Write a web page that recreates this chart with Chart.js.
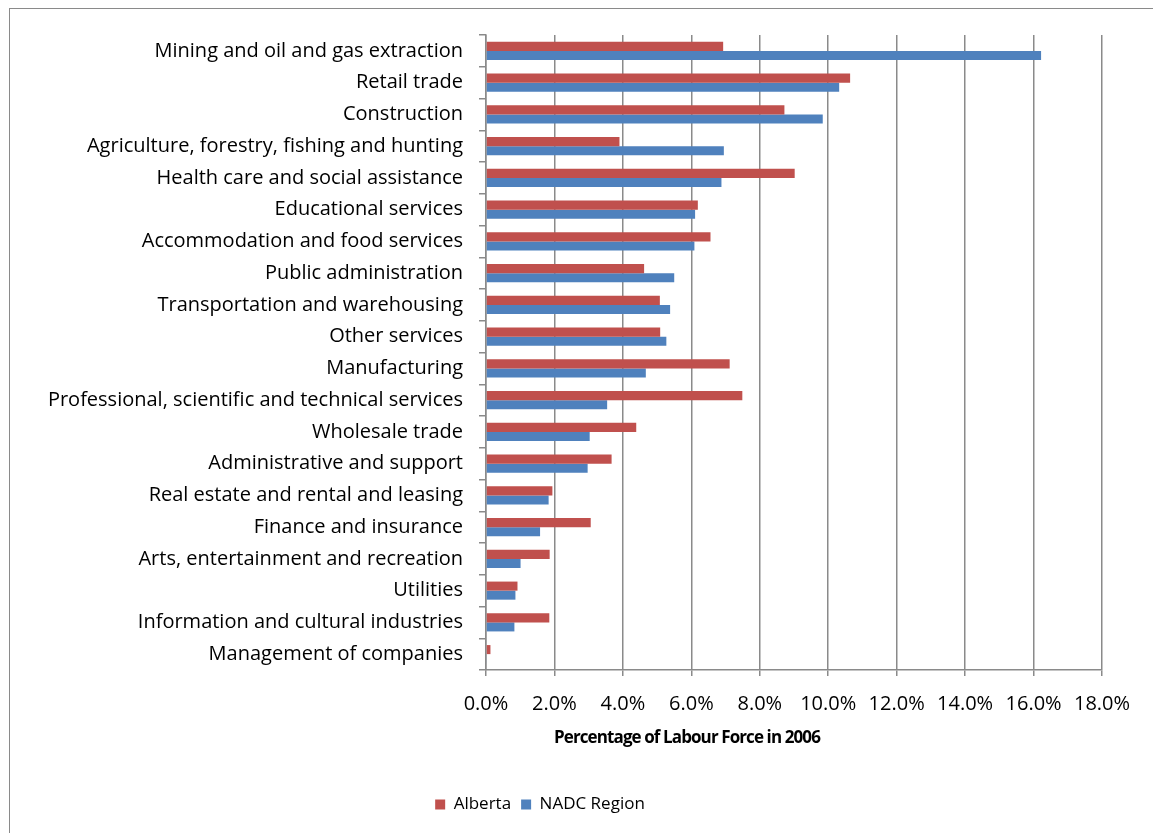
<!DOCTYPE html>
<html>
<head>
<meta charset="utf-8">
<script src="https://cdn.jsdelivr.net/npm/chart.js@4.4.1/dist/chart.umd.min.js"></script>
<style>
  html, body { margin: 0; padding: 0; background: #fff; }
  #wrap { position: relative; width: 1153px; height: 833px; overflow: hidden; }
  #frame { position: absolute; left: 9px; top: 8px; width: 1200px; height: 900px; border: 1.5px solid #8a8a8a; }
  canvas { position: absolute; left: 0; top: 0; }
</style>
</head>
<body>
<div id="wrap">
  <div id="frame"></div>
  <canvas id="labour-chart" width="1153" height="833"></canvas>
</div>
<script>
const industries = [
    "Mining and oil and gas extraction",
    "Retail trade",
    "Construction",
    "Agriculture, forestry, fishing and hunting",
    "Health care and social assistance",
    "Educational services",
    "Accommodation and food services",
    "Public administration",
    "Transportation and warehousing",
    "Other services",
    "Manufacturing",
    "Professional, scientific and technical services",
    "Wholesale trade",
    "Administrative and support",
    "Real estate and rental and leasing",
    "Finance and insurance",
    "Arts, entertainment and recreation",
    "Utilities",
    "Information and cultural industries",
    "Management of companies"
];

const alberta = [6.93, 10.64, 8.72, 3.90, 9.02, 6.19, 6.56, 4.62, 5.08, 5.09, 7.12, 7.49, 4.39, 3.67, 1.94, 3.06, 1.86, 0.92, 1.85, 0.13];
const nadc = [16.22, 10.32, 9.84, 6.95, 6.88, 6.11, 6.09, 5.50, 5.38, 5.27, 4.67, 3.54, 3.03, 2.97, 1.83, 1.58, 1.01, 0.86, 0.83, 0.02];

const xTicks = [0, 2, 4, 6, 8, 10, 12, 14, 16, 18];
const axisTitle = "Percentage of Labour Force in 2006";

const font = "'Open Sans', Lato, sans-serif";
const gridGray = "#8a8a8a";

// excel puts the axis title and legend off-centre, so shift them by hand
const offCentre = {
    id: "offCentre",
    afterLayout(chart) {
        const lg = chart.legend;
        lg.left -= 16;
        lg.right -= 16;
    },
    afterDraw(chart) {
        const x = chart.scales.x;
        const ctx = chart.ctx;
        ctx.save();
        ctx.font = "bold 17px " + font;
        ctx.letterSpacing = "-0.9px";
        ctx.fillStyle = "#000";
        ctx.textAlign = "center";
        ctx.textBaseline = "middle";
        ctx.fillText(axisTitle, x.left + 201, x.bottom - 48);
        ctx.restore();
    }
};

const ctx = document.getElementById("labour-chart").getContext("2d");
new Chart(ctx, {
    type: "bar",
    data: {
        labels: industries,
        datasets: [
            {
                label: "Alberta",
                data: alberta,
                backgroundColor: "#C0504D",
                borderWidth: 0
            },
            {
                label: "NADC Region",
                data: nadc,
                backgroundColor: "#4F81BD",
                borderWidth: 0
            }
        ]
    },
    options: {
        indexAxis: "y",
        responsive: false,
        animation: false,
        categoryPercentage: 0.57,
        barPercentage: 1,
        layout: {
            padding: { left: 10, right: 51, top: 35, bottom: 10 }
        },
        plugins: {
            legend: {
                position: "bottom",
                labels: {
                    boxWidth: 10,
                    boxHeight: 10,
                    padding: 10,
                    color: "#000",
                    font: { family: font, size: 17 }
                }
            },
            tooltip: { enabled: false }
        },
        scales: {
            x: {
                min: 0,
                max: 18,
                afterBuildTicks: (s) => {
                    s.ticks = xTicks.map(v => ({ value: v }));
                },
                afterFit: (s) => {
                    s.height += 54;
                },
                ticks: {
                    color: "#000",
                    padding: 16,
                    maxRotation: 0,
                    font: { family: font, size: 20 },
                    callback: (v) => v.toFixed(1) + "%"
                },
                grid: {
                    color: gridGray,
                    lineWidth: 1.5,
                    tickLength: 6
                },
                border: { color: gridGray, width: 1.5 }
            },
            y: {
                afterFit: (s) => {
                    s.width = 476;
                },
                ticks: {
                    color: "#000",
                    padding: 16,
                    autoSkip: false,
                    font: { family: font, size: 20 }
                },
                grid: {
                    drawOnChartArea: false,
                    color: gridGray,
                    lineWidth: 1.5,
                    tickLength: 7
                },
                border: { color: gridGray, width: 1.5 }
            }
        }
    },
    plugins: [offCentre]
});
</script>
</body>
</html>
